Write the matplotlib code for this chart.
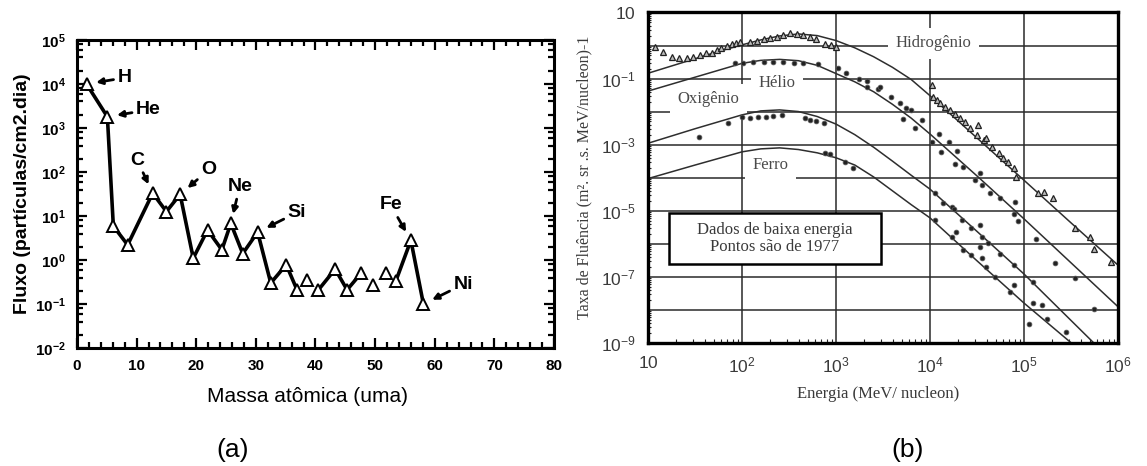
import matplotlib
matplotlib.use("Agg")
import matplotlib.pyplot as plt
import numpy as np
from matplotlib.ticker import FixedLocator, MultipleLocator, LogLocator, NullFormatter, FixedFormatter
from matplotlib.patches import Rectangle

plt.rcParams['font.family'] = ['Liberation Sans', 'DejaVu Sans']
plt.rcParams['mathtext.fontset'] = 'custom'
plt.rcParams['mathtext.rm'] = 'Liberation Sans'
plt.rcParams['mathtext.bf'] = 'Liberation Sans:bold'
plt.rcParams['mathtext.it'] = 'Liberation Sans:italic'

# ---------------- Panel (a) data ----------------
mass = [1.6, 5.1, 6.1, 8.5, 12.7, 15.0, 17.3, 19.5, 21.9, 24.3, 25.8, 27.8, 30.3,
        32.5, 35.1, 36.9, 38.6, 40.5, 43.3, 45.3, 47.7, 49.7, 51.8, 53.5, 56.0, 58.1]
flux = [1.0e4, 1.8e3, 5.9, 2.2, 33, 12.6, 31, 1.1, 4.8, 1.7, 6.8, 1.4, 4.3,
        0.30, 0.78, 0.21, 0.35, 0.21, 0.62, 0.21, 0.51, 0.27, 0.51, 0.34, 2.8, 0.10]
segment = [0] * 16 + [1] + [2] * 4 + [3] + [4] + [5] * 3

elements = ['H', 'He', 'C', 'O', 'Ne', 'Si', 'Fe', 'Ni']
element_index = [0, 1, 4, 6, 10, 12, 24, 25]
label_mass = [8.0, 12.0, 10.1, 22.1, 27.3, 36.9, 52.6, 64.8]
label_flux = [1.38e4, 2.57e3, 186, 112, 46.8, 12.0, 17.8, 0.28]

a_xticks = [0, 10, 20, 30, 40, 50, 60, 70, 80]
a_yexp = [-2, -1, 0, 1, 2, 3, 4, 5]

# ---------------- Panel (b) data (log10 values) ----------------
h_curve_logE = [1.0, 1.25, 1.5, 1.75, 2.0, 2.2, 2.4, 2.6, 2.8, 3.0, 3.2, 3.4, 3.6, 3.8, 4.0, 4.5, 5.0, 5.5, 6.0]
h_curve_logF = [-0.84, -0.62, -0.40, -0.18, 0.02, 0.17, 0.29, 0.35, 0.30, 0.15, -0.07, -0.34, -0.66, -1.03,
                -1.52, -2.80, -4.08, -5.37, -6.65]
he_curve_logE = [1.0, 1.5, 2.0, 2.2, 2.4, 2.6, 2.8, 3.0, 3.2, 3.4, 3.6, 3.8, 4.0, 4.5, 5.0, 5.5, 6.0]
he_curve_logF = [-1.38, -0.96, -0.54, -0.45, -0.42, -0.46, -0.60, -0.85, -1.10, -1.40, -1.78, -2.20,
                 -2.68, -3.95, -5.25, -6.58, -7.91]
o_curve_logE = [1.0, 1.5, 2.0, 2.2, 2.4, 2.6, 2.8, 3.0, 3.2, 3.4, 3.6, 3.8, 4.0, 4.5, 5.0, 5.74]
o_curve_logF = [-2.96, -2.52, -2.10, -1.98, -1.95, -2.0, -2.15, -2.38, -2.70, -3.08, -3.50, -3.93,
                -4.35, -5.63, -6.92, -9.0]
fe_curve_logE = [1.0, 1.5, 2.0, 2.2, 2.4, 2.6, 2.8, 3.0, 3.2, 3.4, 3.6, 3.8, 4.0, 4.5, 5.0, 5.5]
fe_curve_logF = [-4.03, -3.62, -3.22, -3.13, -3.10, -3.15, -3.25, -3.40, -3.62, -3.98, -4.40, -4.82,
                 -5.22, -6.52, -7.80, -9.0]

h_pts_logE = [1.07, 1.16, 1.25, 1.33, 1.41, 1.48, 1.55, 1.62, 1.68, 1.73, 1.78, 1.84, 1.89, 1.94, 1.98,
              2.09, 2.16, 2.23, 2.30, 2.37, 2.44, 2.51, 2.58, 2.65, 2.72, 2.79, 2.88, 2.95, 3.0,
              4.02, 4.03, 4.07, 4.11, 4.16, 4.21, 4.27, 4.32, 4.37, 4.43, 4.51, 4.50, 4.57, 4.60, 4.66,
              4.73, 4.78, 4.83, 4.89, 4.92, 5.15, 5.21, 5.31, 5.54, 5.70, 5.74, 5.93]
h_pts_logF = [-0.06, -0.19, -0.34, -0.39, -0.37, -0.34, -0.29, -0.24, -0.22, -0.14, -0.07, -0.02, 0.04,
              0.09, 0.12, 0.12, 0.15, 0.19, 0.22, 0.27, 0.32, 0.37, 0.35, 0.32, 0.25, 0.19, 0.06, 0.01,
              -0.06, -1.2, -1.57, -1.65, -1.75, -1.85, -1.95, -2.06, -2.21, -2.31, -2.51, -2.41, -2.71,
              -2.86, -2.81, -3.07, -3.27, -3.42, -3.52, -3.72, -3.97, -4.48, -4.43, -4.63, -5.54, -5.79,
              -6.15, -6.55]
he_pts_logE = [1.93, 2.01, 2.12, 2.23, 2.33, 2.44, 2.55, 2.65, 2.81, 3.02, 3.11, 3.24, 3.33, 3.33, 3.45,
               3.47, 3.59, 3.68, 3.74, 3.80, 3.71, 3.84, 3.92, 4.10, 4.02, 4.12, 4.20, 4.29, 4.27, 4.35,
               4.53, 4.48, 4.55, 4.64, 4.75, 4.90, 4.89, 4.94, 5.13, 5.33, 5.54, 5.74]
he_pts_logF = [-0.54, -0.52, -0.50, -0.49, -0.50, -0.51, -0.52, -0.54, -0.57, -0.69, -0.82, -1.0, -1.07,
               -1.25, -1.33, -1.27, -1.57, -1.75, -1.90, -1.95, -2.24, -2.51, -2.26, -2.68, -2.91, -3.22,
               -2.91, -3.19, -3.59, -3.67, -3.85, -4.08, -4.23, -4.48, -4.63, -4.73, -5.09, -5.31, -5.87,
               -6.60, -7.05, -7.99]
o_pts_logE = [1.54, 1.85, 2.0, 2.09, 2.17, 2.26, 2.33, 2.42, 2.67, 2.72, 2.79, 2.87,
              4.05, 4.14, 4.23, 4.26, 4.34, 4.28, 4.44, 4.53, 4.55, 4.62, 4.53, 4.75, 4.89, 4.89,
              5.10, 5.10, 5.19, 5.24, 5.45]
o_pts_logF = [-2.78, -2.34, -2.16, -2.19, -2.18, -2.16, -2.14, -2.11, -2.19, -2.26, -2.29, -2.34,
              -4.46, -4.76, -4.89, -4.94, -5.29, -5.64, -5.54, -5.44, -5.79, -5.99, -6.10, -6.30, -6.65,
              -7.26, -7.16, -7.81, -7.86, -8.27, -8.67]
fe_pts_logE = [2.88, 2.94, 3.10, 3.18, 4.05, 4.23, 4.35, 4.44, 4.55, 4.60, 4.69, 4.85, 5.05]
fe_pts_logF = [-3.25, -3.29, -3.52, -3.70, -5.29, -5.79, -6.20, -6.35, -6.45, -6.70, -7.01, -7.46, -8.42]

b_curve_names = ['Hidrogênio', 'Hélio', 'Oxigênio', 'Ferro']
b_label_logE = [4.04, 2.37, 1.64, 2.30]
b_label_logF = [0.066, -1.13, -1.63, -3.62]
b_xexp = [1, 2, 3, 4, 5, 6]
b_yexp = [1, -1, -3, -5, -7, -9]

# ---------------- Figure ----------------
fig = plt.figure(figsize=(11.47, 4.66), dpi=100)

# ===== Panel (a) =====
ax1 = fig.add_axes([0.0671, 0.2532, 0.4159, 0.6610])
mass_arr = np.array(mass)
flux_arr = np.array(flux)
seg_arr = np.array(segment)
for s in np.unique(seg_arr):
    m = seg_arr == s
    ax1.plot(mass_arr[m], flux_arr[m], color='black', lw=2.6, zorder=2, solid_joinstyle='miter')
ax1.plot(mass_arr, flux_arr, linestyle='none', marker='^', markersize=8.5,
         markerfacecolor='white', markeredgecolor='black', markeredgewidth=1.4, zorder=3)
ax1.set_yscale('log')
ax1.set_xlim(0, 80)
ax1.set_ylim(1e-2, 1e5)

for name, idx, lx, ly in zip(elements, element_index, label_mass, label_flux):
    ax1.annotate(name, xy=(mass[idx], flux[idx]), xytext=(lx, ly),
                 ha='center', va='center', fontsize=14, fontweight='bold',
                 arrowprops=dict(arrowstyle='-|>', color='black', lw=2.0, mutation_scale=9,
                                 shrinkA=1, shrinkB=7))

ax1.xaxis.set_major_locator(FixedLocator(a_xticks))
ax1.xaxis.set_minor_locator(MultipleLocator(2))
ax1.set_xticklabels([str(v) for v in a_xticks])
ax1.yaxis.set_major_locator(FixedLocator([10.0 ** e for e in a_yexp]))
ax1.yaxis.set_major_formatter(FixedFormatter([r'$\mathbf{10^{%d}}$' % e for e in a_yexp]))
ax1.yaxis.set_minor_locator(LogLocator(base=10, subs=(2, 4, 6, 8), numticks=20))
ax1.yaxis.set_minor_formatter(NullFormatter())
ax1.tick_params(which='both', direction='in', top=True, right=True, width=1.6, colors='black')
ax1.tick_params(which='major', length=7, labelsize=11, pad=8)
ax1.tick_params(which='minor', length=4)
for lab in ax1.get_xticklabels():
    lab.set_fontweight('bold')
for sp in ax1.spines.values():
    sp.set_linewidth(2.2)

ax1.set_xlabel('Massa atômica (uma)', fontsize=15)
ax1.xaxis.set_label_coords(0.483, -0.125)
ax1.set_ylabel('Fluxo (partículas/cm2.dia)', fontsize=14, fontweight='bold')
ax1.yaxis.set_label_coords(-0.096, 0.5)

fig.text(233 / 1147, 1 - 450 / 466, '(a)', fontsize=19, ha='center', va='center')

# ===== Panel (b) =====
ax2 = fig.add_axes([0.5650, 0.2646, 0.4097, 0.7086])
ax2.set_xscale('log')
ax2.set_yscale('log')
ax2.set_xlim(10, 1e6)
ax2.set_ylim(1e-9, 10)

curve_color = '#2e2e2e'
for cx, cy in [(h_curve_logE, h_curve_logF), (he_curve_logE, he_curve_logF),
               (o_curve_logE, o_curve_logF), (fe_curve_logE, fe_curve_logF)]:
    ax2.plot(10.0 ** np.array(cx), 10.0 ** np.array(cy), color=curve_color, lw=1.1, zorder=3)

ax2.plot(10.0 ** np.array(h_pts_logE), 10.0 ** np.array(h_pts_logF), linestyle='none', marker='^',
         markersize=3.8, markerfacecolor='#bbbbbb', markeredgecolor='#222222', markeredgewidth=0.9, zorder=4)
for px, py in [(he_pts_logE, he_pts_logF), (o_pts_logE, o_pts_logF), (fe_pts_logE, fe_pts_logF)]:
    ax2.plot(10.0 ** np.array(px), 10.0 ** np.array(py), linestyle='none', marker='o',
             markersize=3.4, markerfacecolor='#222222', markeredgecolor='#555555', markeredgewidth=0.6, zorder=4)

for name, lx, ly in zip(b_curve_names, b_label_logE, b_label_logF):
    ax2.text(10.0 ** lx, 10.0 ** ly, name, family='Liberation Serif', fontsize=12, color='#4a4a4a',
             ha='center', va='center', zorder=2.5,
             bbox=dict(boxstyle='square,pad=0.45', facecolor='white', edgecolor='none'))

ax2.add_patch(Rectangle((0.0447, 0.2374), 0.451, 0.1563, transform=ax2.transAxes,
                        facecolor='white', edgecolor='black', lw=1.8, zorder=2.6))
ax2.text(0.270, 0.3156, 'Dados de baixa energia\nPontos são de 1977', transform=ax2.transAxes,
         family='Liberation Serif', fontsize=12, color='#3a3a3a', ha='center', va='center',
         linespacing=1.15, zorder=2.7)

ax2.xaxis.set_major_locator(FixedLocator([10.0 ** e for e in b_xexp]))
ax2.xaxis.set_major_formatter(FixedFormatter(['$10$' if e == 1 else r'$10^{%d}$' % e for e in b_xexp]))
ax2.xaxis.set_minor_locator(LogLocator(base=10, subs=np.arange(2, 10), numticks=20))
ax2.xaxis.set_minor_formatter(NullFormatter())
ydec = list(range(-9, 2))
ax2.yaxis.set_major_locator(FixedLocator([10.0 ** e for e in ydec]))
ax2.yaxis.set_major_formatter(FixedFormatter(
    [('$10$' if e == 1 else r'$10^{%d}$' % e) if e in b_yexp else '' for e in ydec]))
ax2.yaxis.set_minor_locator(LogLocator(base=10, subs=np.arange(2, 10), numticks=30))
ax2.yaxis.set_minor_formatter(NullFormatter())
ax2.tick_params(which='both', direction='in', colors='#222222', labelcolor='#3a3a3a')
ax2.tick_params(which='major', length=0, labelsize=12.5, pad=9)
ax2.tick_params(which='minor', length=3, width=0.8)
ax2.tick_params(axis='y', which='minor', length=2)
ax2.grid(True, which='major', color='#2a2a2a', lw=1.1)
ax2.set_axisbelow(True)
for sp in ax2.spines.values():
    sp.set_linewidth(2.4)
    sp.set_zorder(5)

ax2.set_xlabel('Energia (MeV/ nucleon)', family='Liberation Serif', fontsize=12, color='#3a3a3a')
ax2.xaxis.set_label_coords(0.49, -0.13)
ax2.set_ylabel('Taxa de Fluência (m². sr .s. MeV/nucleon)-1', family='Liberation Serif',
               fontsize=11.5, color='#3a3a3a')
ax2.yaxis.set_label_coords(-0.118, 0.5)

fig.text(908 / 1147, 1 - 450 / 466, '(b)', fontsize=19, ha='center', va='center')

fig.savefig('out.png', dpi=100)
